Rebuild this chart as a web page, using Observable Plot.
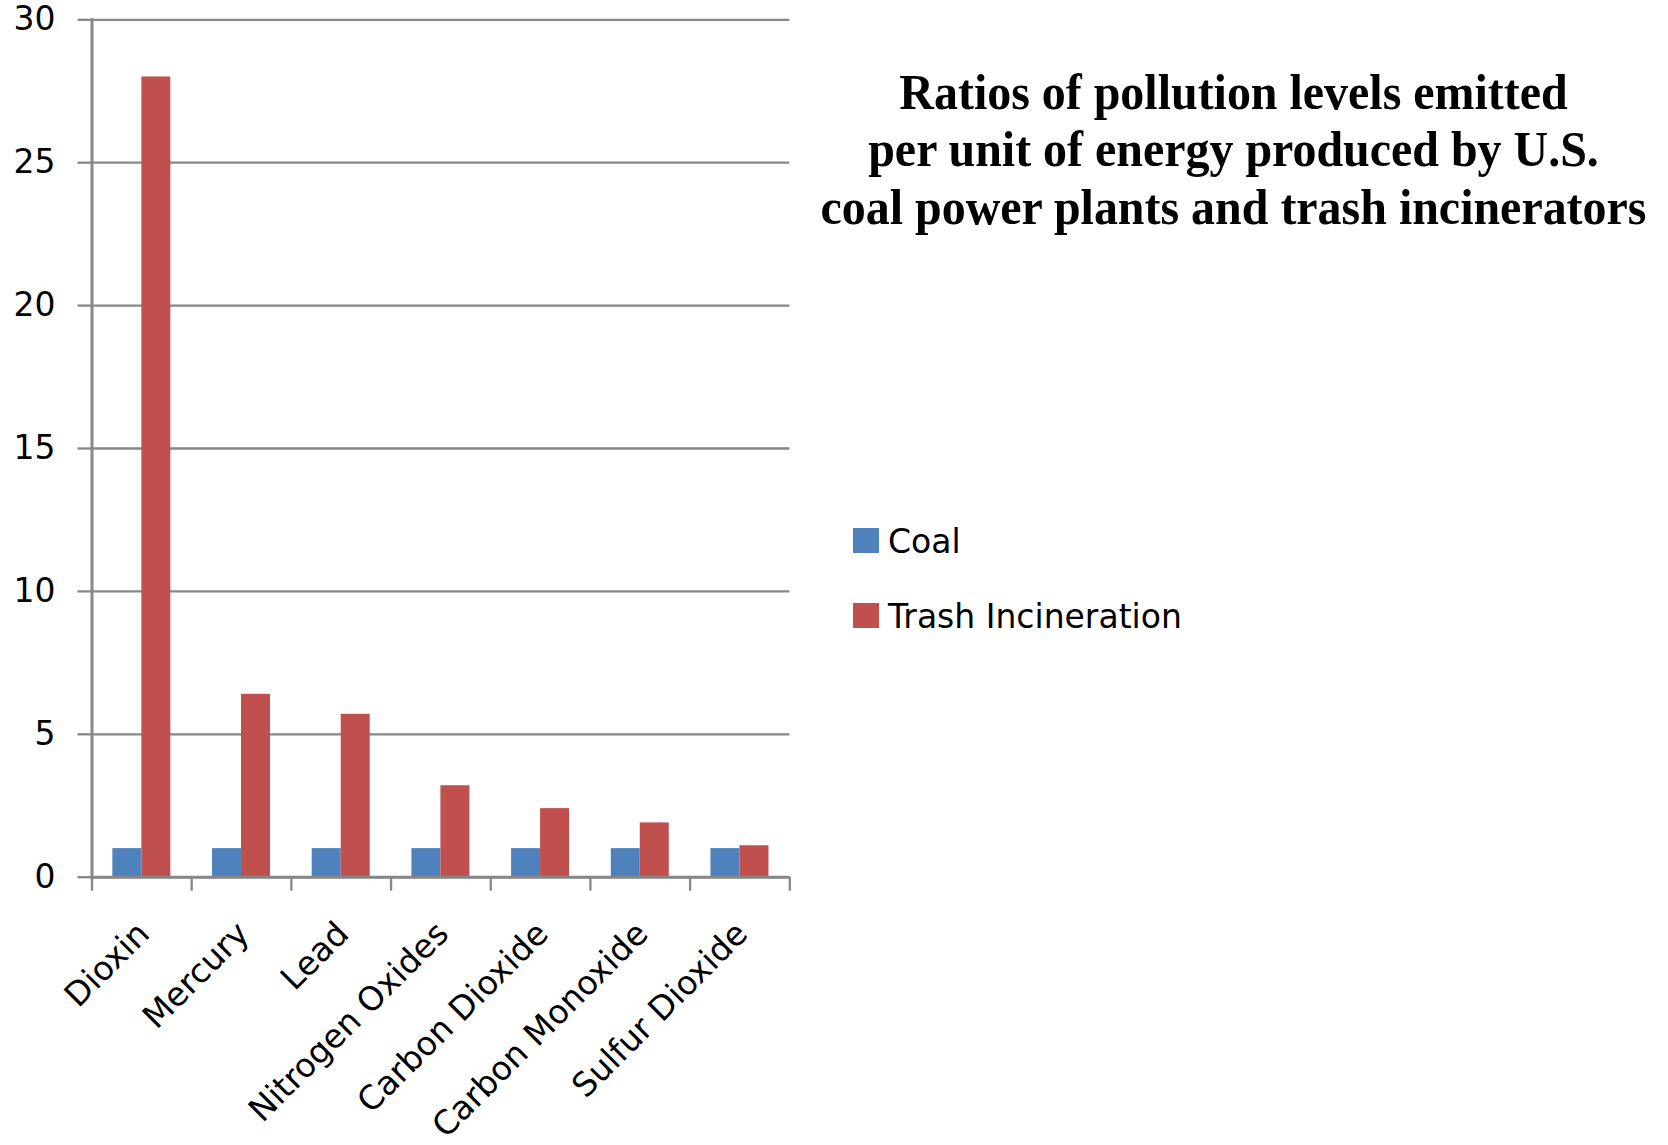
<!DOCTYPE html>
<html>
<head>
<meta charset="utf-8">
<script src="https://cdn.jsdelivr.net/npm/d3@7"></script>
<script src="https://cdn.jsdelivr.net/npm/@observablehq/plot@0.6"></script>
<style>
  html, body { margin: 0; padding: 0; background: #fff; }
  #wrap { position: relative; width: 1668px; height: 1145px; overflow: hidden; }
  #wrap svg { position: absolute; left: 0; top: 0; }
</style>
</head>
<body>
<div id="wrap"></div>
<script>
// ---- data ----
const categories = ["Dioxin", "Mercury", "Lead", "Nitrogen Oxides", "Carbon Dioxide", "Carbon Monoxide", "Sulfur Dioxide"];
const coalValues = [1, 1, 1, 1, 1, 1, 1];
const trashValues = [28, 6.4, 5.7, 3.2, 2.4, 1.9, 1.1];
const seriesNames = ["Coal", "Trash Incineration"];
const seriesColors = ["#4F81BD", "#C0504D"];
const yTicks = [0, 5, 10, 15, 20, 25, 30];
const titleLines = [
  "Ratios of pollution levels emitted",
  "per unit of energy produced by U.S.",
  "coal power plants and trash incinerators"
];

// ---- layout ----
const W = 1668, H = 1145;
const ml = 91.5, mr = W - 789.3, mt = 19.3, mb = H - 876.7;
const bw = (W - ml - mr) / categories.length;
const barW = 29;
const gray = "#878787";

const coalData = categories.map((c, i) => ({category: c, series: seriesNames[0], value: coalValues[i]}));
const trashData = categories.map((c, i) => ({category: c, series: seriesNames[1], value: trashValues[i]}));

const chart = Plot.plot({
  width: W,
  height: H,
  marginLeft: ml,
  marginRight: mr,
  marginTop: mt,
  marginBottom: mb,
  style: {fontFamily: "DejaVu Sans", fontSize: "33px", color: "#000", background: "transparent", overflow: "visible"},
  x: {domain: categories, padding: 0, round: false, label: null, axis: null},
  y: {domain: [0, 30], label: null, axis: null},
  color: {domain: seriesNames, range: seriesColors},
  marks: [
    Plot.gridY(yTicks, {stroke: gray, strokeOpacity: 1, strokeWidth: 2.3}),
    Plot.barY(coalData, {x: "category", y: "value", fill: "series", insetLeft: bw / 2 - barW, insetRight: bw / 2}),
    Plot.barY(trashData, {x: "category", y: "value", fill: "series", insetLeft: bw / 2, insetRight: bw / 2 - barW}),
    Plot.axisY(yTicks, {tickSize: 14, tickPadding: 22.5, stroke: gray, strokeWidth: 2.3, label: null, fill: "#000", tickFormat: d => String(d)}),
    Plot.ruleY([0], {stroke: gray, strokeWidth: 3}),
    Plot.frame({anchor: "left", stroke: gray, strokeWidth: 3}),
    Plot.axisX({tickSize: 14, tickFormat: () => "", dx: -bw / 2, stroke: gray, strokeWidth: 2.3, label: null}),
    Plot.axisX([categories[categories.length - 1]], {tickSize: 14, tickFormat: () => "", dx: bw / 2, stroke: gray, strokeWidth: 2.3, label: null}),
    Plot.axisX({tickSize: 0, tickPadding: 51, tickRotate: -45, dx: 2, label: null, fill: "#000"})
  ]
});

const wrap = document.getElementById("wrap");
wrap.appendChild(chart);

// ---- overlay: title and legend ----
const overlay = d3.create("svg")
  .attr("width", W)
  .attr("height", H)
  .attr("viewBox", `0 0 ${W} ${H}`)
  .style("pointer-events", "none");

const title = overlay.append("g")
  .attr("transform", "translate(1233.5,0) scale(0.94,1)")
  .attr("font-family", "'Liberation Serif', 'Times New Roman', serif")
  .attr("font-weight", "bold")
  .attr("font-size", 51)
  .attr("text-anchor", "middle")
  .attr("fill", "#000");
titleLines.forEach((t, i) => {
  title.append("text").attr("x", 0).attr("y", 109 + i * 57.5).text(t);
});

const legend = overlay.append("g")
  .attr("font-family", "'DejaVu Sans', sans-serif")
  .attr("font-size", 33)
  .attr("fill", "#000");
seriesNames.forEach((name, i) => {
  const y0 = 528 + i * 75;
  legend.append("rect").attr("x", 853).attr("y", y0).attr("width", 26).attr("height", 25).attr("fill", seriesColors[i]);
  legend.append("text").attr("x", 888).attr("y", y0 + 24.7).text(name);
});

wrap.appendChild(overlay.node());
</script>
</body>
</html>
